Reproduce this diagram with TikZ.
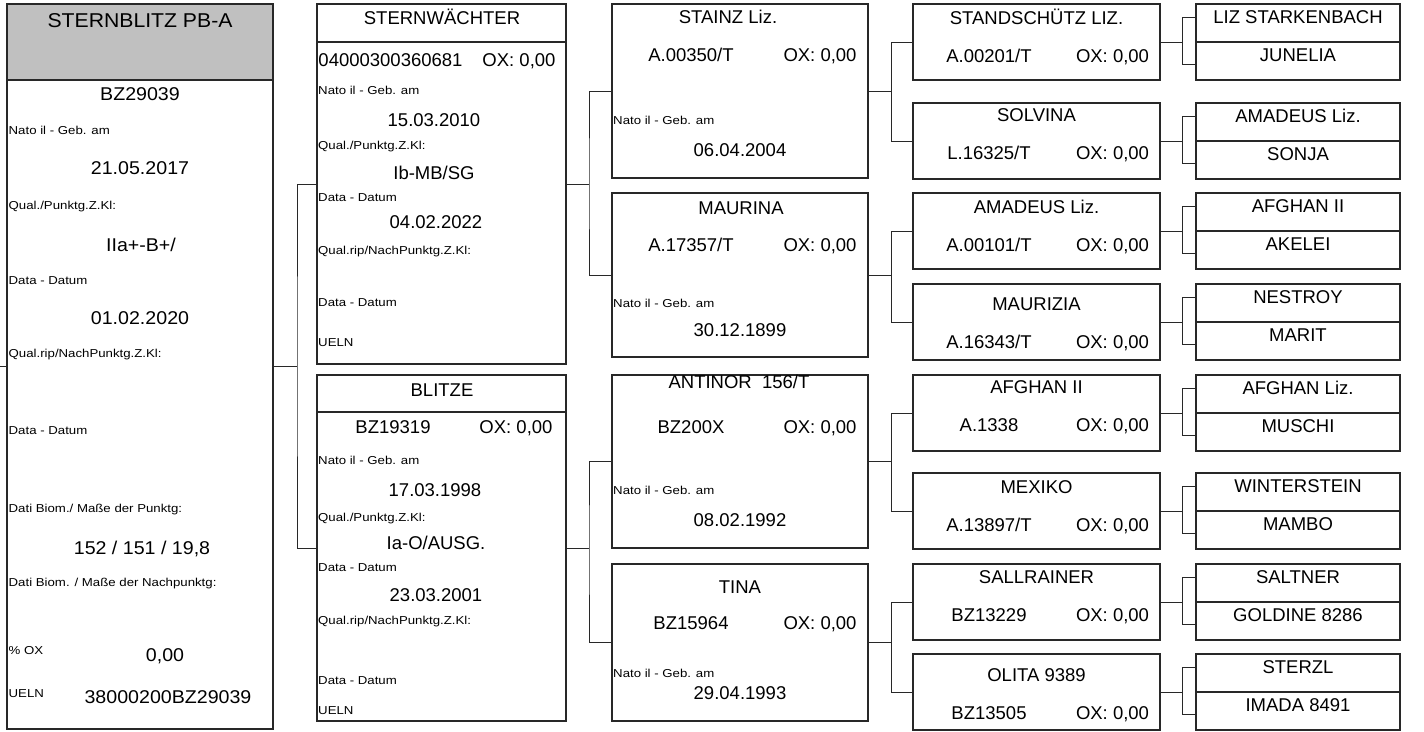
\documentclass[tikz,border=0pt]{standalone}
\usepackage{fontspec}
\setmainfont{Liberation Sans}
\newfontfamily\widefont[FakeStretch=1.06]{Liberation Sans}
\newfontfamily\labelfont[FakeStretch=1.15]{Liberation Sans}

\definecolor{headgray}{RGB}{192,192,192}
\definecolor{linegray}{RGB}{40,40,40}

\tikzset{
  frame/.style={draw=linegray, line width=1.1pt, inner sep=0pt, outer sep=0pt, anchor=north west},
  link/.style={draw=linegray, line width=0.9pt},
  big/.style={font=\fontsize{18.5}{20}\selectfont, inner sep=0pt, text height=13.2pt, text depth=0pt},
  wide/.style={font=\widefont\fontsize{18.5}{20}\selectfont, inner sep=0pt, text height=13.2pt, text depth=0pt},
  headline/.style={font=\widefont\fontsize{20}{22}\selectfont, inner sep=0pt, text height=14.3pt, text depth=0pt},
  lab/.style={font=\labelfont\fontsize{11.5}{13}\selectfont, inner sep=0pt, anchor=west, text height=8.2pt, text depth=0pt},
}

\newcommand{\grandbox}[5]{%
  \node[frame, minimum width=247, minimum height=76] (#1) at (913,#2) {};
  \node[big] (#1-name) at (1036.5,#2+#5) {#3};
  \node[big] (#1-reg) at (989,#2+#5+38) {#4};
  \node[big] (#1-ox) at (1112.5,#2+#5+38) {OX: 0,00};
}
\newcommand{\parentbox}[4]{%
  \node[frame, minimum width=204, minimum height=38] (#1-up) at (1196,#2) {};
  \node[frame, minimum width=204, minimum height=38] (#1-lo) at (1196,#2+38) {};
  \node[big] (#1-sire) at (1298,#2+13) {#3};
  \node[big] (#1-dam) at (1298,#2+51) {#4};
}
\newcommand{\fork}[4]{%
  \draw[link] (#1.east) -- ++(#4,0) coordinate (#1-fork);
  \draw[link] (#2.west) -| (#1-fork) |- (#3.west);
}

\begin{document}
\begin{tikzpicture}[x=1pt, y=-1pt]
  \useasboundingbox (0,0) rectangle (1424,731);

  \node[frame, fill=headgray, minimum width=266, minimum height=76] (mainhead) at (7,4) {};
  \node[frame, minimum width=266, minimum height=725] (main) at (7,4) {};
  \node[headline] (main-name) at (140,20) {STERNBLITZ PB-A};
  \node[wide] (main-reg) at (140,94) {BZ29039};
  \node[lab] (main-born) at (8.5,130) {Nato il - Geb. am};
  \node[wide] (main-dob) at (140,168) {21.05.2017};
  \node[lab] (main-qual) at (8.5,205) {Qual./Punktg.Z.Kl:};
  \node[wide] (main-qualv) at (141,245) {IIa+-B+/};
  \node[lab] (main-date) at (8.5,280) {Data - Datum};
  \node[wide] (main-datev) at (140,318) {01.02.2020};
  \node[lab] (main-requal) at (8.5,353) {Qual.rip/NachPunktg.Z.Kl:};
  \node[lab] (main-redate) at (8.5,430) {Data - Datum};
  \node[lab] (main-bio) at (8.5,508) {Dati Biom./ Maße der Punktg:};
  \node[wide] (main-biov) at (142,548) {152 / 151 / 19,8};
  \node[lab] (main-rebio) at (8.5,582) {Dati Biom. / Maße der Nachpunktg:};
  \node[lab] (main-ox) at (8.5,650) {\% OX};
  \node[wide] (main-oxv) at (165,655) {0,00};
  \node[lab] (main-ueln) at (8.5,693) {UELN};
  \node[wide] (main-uelnv) at (168,697) {38000200BZ29039};

  \node[frame, minimum width=249, minimum height=38] (sternw-head) at (317,4) {};
  \node[frame, minimum width=249, minimum height=360] (sternw) at (317,4) {};
  \node[big] (sternw-name) at (442,18) {STERNWÄCHTER};
  \node[big] (sternw-reg) at (390.5,60) {04000300360681};
  \node[big] (sternw-ox) at (519,60) {OX: 0,00};
  \node[lab] (sternw-born) at (318,90) {Nato il - Geb. am};
  \node[big] (sternw-dob) at (434,120) {15.03.2010};
  \node[lab] (sternw-qual) at (318,145) {Qual./Punktg.Z.Kl:};
  \node[big] (sternw-qualv) at (434,173) {Ib-MB/SG};
  \node[lab] (sternw-date) at (318,197) {Data - Datum};
  \node[big] (sternw-datev) at (436,222) {04.02.2022};
  \node[lab] (sternw-requal) at (318,250) {Qual.rip/NachPunktg.Z.Kl:};
  \node[lab] (sternw-redate) at (318,302) {Data - Datum};
  \node[lab] (sternw-ueln) at (318,342) {UELN};

  \node[frame, minimum width=249, minimum height=37] (blitze-head) at (317,375) {};
  \node[frame, minimum width=249, minimum height=346] (blitze) at (317,375) {};
  \node[big] (blitze-name) at (442,390) {BLITZE};
  \node[big] (blitze-reg) at (393,427) {BZ19319};
  \node[big] (blitze-ox) at (516,427) {OX: 0,00};
  \node[lab] (blitze-born) at (318,460) {Nato il - Geb. am};
  \node[big] (blitze-dob) at (435,490) {17.03.1998};
  \node[lab] (blitze-qual) at (318,517) {Qual./Punktg.Z.Kl:};
  \node[big] (blitze-qualv) at (436,543) {Ia-O/AUSG.};
  \node[lab] (blitze-date) at (318,567) {Data - Datum};
  \node[big] (blitze-datev) at (436,595) {23.03.2001};
  \node[lab] (blitze-requal) at (318,620) {Qual.rip/NachPunktg.Z.Kl:};
  \node[lab] (blitze-redate) at (318,680) {Data - Datum};
  \node[lab] (blitze-ueln) at (318,710) {UELN};

  \node[frame, minimum width=256, minimum height=174] (stainz) at (612,4) {};
  \node[big] (stainz-name) at (728,17) {STAINZ Liz.};
  \node[big] (stainz-reg) at (691,55) {A.00350/T};
  \node[big] (stainz-ox) at (820,55) {OX: 0,00};
  \node[lab] (stainz-born) at (613,120) {Nato il - Geb. am};
  \node[big] (stainz-dob) at (740,150) {06.04.2004};

  \node[frame, minimum width=256, minimum height=164] (maurina) at (612,193) {};
  \node[big] (maurina-name) at (741,208) {MAURINA};
  \node[big] (maurina-reg) at (691,245) {A.17357/T};
  \node[big] (maurina-ox) at (820,245) {OX: 0,00};
  \node[lab] (maurina-born) at (613,303) {Nato il - Geb. am};
  \node[big] (maurina-dob) at (740,330) {30.12.1899};

  \node[frame, minimum width=256, minimum height=173] (antinor) at (612,375) {};
  \node[big] (antinor-name) at (739,382) {ANTINOR~~156/T};
  \node[big] (antinor-reg) at (691,427) {BZ200X};
  \node[big] (antinor-ox) at (820,427) {OX: 0,00};
  \node[lab] (antinor-born) at (613,490) {Nato il - Geb. am};
  \node[big] (antinor-dob) at (740,520) {08.02.1992};

  \node[frame, minimum width=256, minimum height=157] (tina) at (612,564) {};
  \node[big] (tina-name) at (740,587) {TINA};
  \node[big] (tina-reg) at (691,623) {BZ15964};
  \node[big] (tina-ox) at (820,623) {OX: 0,00};
  \node[lab] (tina-born) at (613,673) {Nato il - Geb. am};
  \node[big] (tina-dob) at (740,693) {29.04.1993};

  \grandbox{standsch}{4}{STANDSCHÜTZ LIZ.}{A.00201/T}{14}
  \grandbox{solvina}{103}{SOLVINA}{L.16325/T}{12}
  \grandbox{amadeus}{193}{AMADEUS Liz.}{A.00101/T}{14}
  \grandbox{maurizia}{284}{MAURIZIA}{A.16343/T}{20}
  \grandbox{afghan}{375}{AFGHAN II}{A.1338}{12}
  \grandbox{mexiko}{473}{MEXIKO}{A.13897/T}{14}
  \grandbox{sallrainer}{564}{SALLRAINER}{BZ13229}{13}
  \grandbox{olita}{654}{OLITA 9389}{BZ13505}{21}

  \parentbox{p1}{4}{LIZ STARKENBACH}{JUNELIA}
  \parentbox{p2}{103}{AMADEUS Liz.}{SONJA}
  \parentbox{p3}{193}{AFGHAN II}{AKELEI}
  \parentbox{p4}{284}{NESTROY}{MARIT}
  \parentbox{p5}{375}{AFGHAN Liz.}{MUSCHI}
  \parentbox{p6}{473}{WINTERSTEIN}{MAMBO}
  \parentbox{p7}{564}{SALTNER}{GOLDINE 8286}
  \parentbox{p8}{654}{STERZL}{IMADA 8491}

  \draw[link] (main.west) -- ++(-7,0);
  \fork{main}{sternw}{blitze}{24}
  \fork{sternw}{stainz}{maurina}{23}
  \fork{blitze}{antinor}{tina}{23}
  \fork{stainz}{standsch}{solvina}{23}
  \fork{maurina}{amadeus}{maurizia}{23}
  \fork{antinor}{afghan}{mexiko}{23}
  \fork{tina}{sallrainer}{olita}{23}
  \fork{standsch}{[yshift=6pt]p1-up}{[yshift=-3pt]p1-lo}{22}
  \fork{solvina}{[yshift=6pt]p2-up}{[yshift=-3pt]p2-lo}{22}
  \fork{amadeus}{[yshift=6pt]p3-up}{[yshift=-3pt]p3-lo}{22}
  \fork{maurizia}{[yshift=6pt]p4-up}{[yshift=-3pt]p4-lo}{22}
  \fork{afghan}{[yshift=6pt]p5-up}{[yshift=-3pt]p5-lo}{22}
  \fork{mexiko}{[yshift=6pt]p6-up}{[yshift=-3pt]p6-lo}{22}
  \fork{sallrainer}{[yshift=6pt]p7-up}{[yshift=-3pt]p7-lo}{22}
  \fork{olita}{[yshift=6pt]p8-up}{[yshift=-3pt]p8-lo}{22}
\end{tikzpicture}
\end{document}
